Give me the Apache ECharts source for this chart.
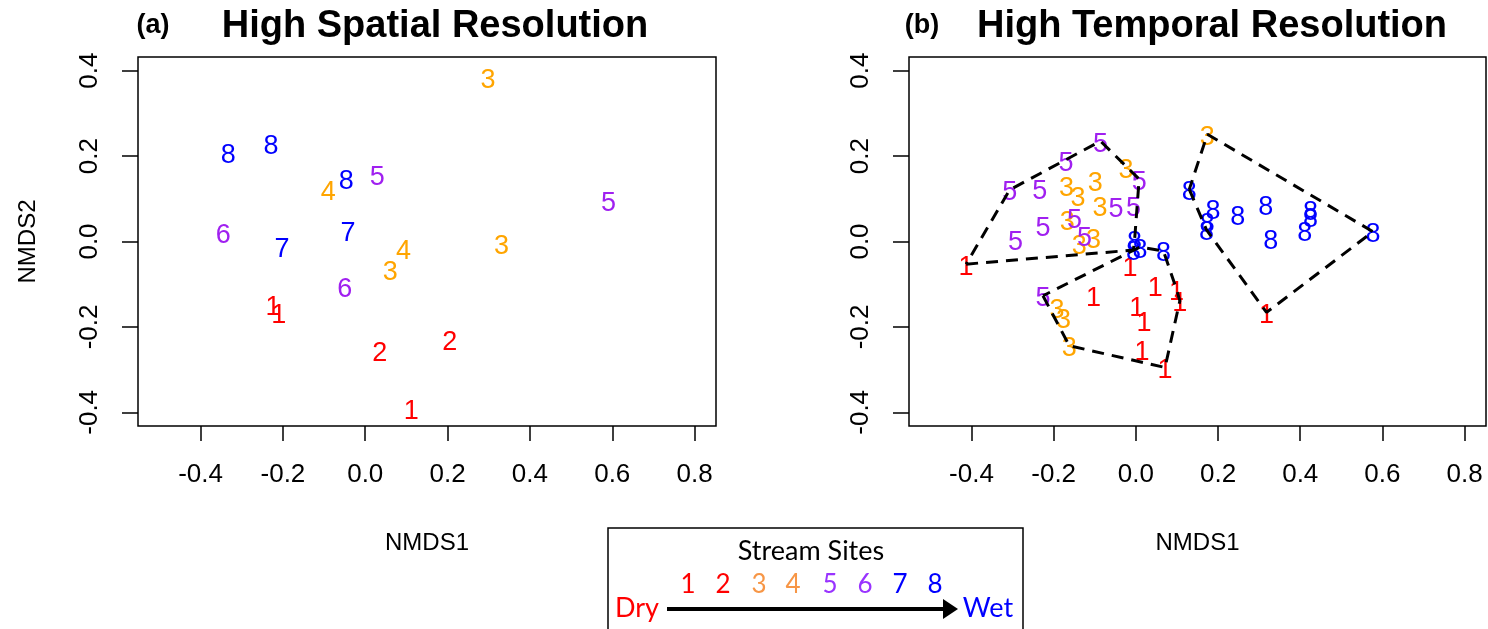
<!DOCTYPE html>
<html>
<head>
<meta charset="utf-8">
<title>NMDS ordination of stream sites</title>
<script src="https://cdn.jsdelivr.net/npm/echarts@6/dist/echarts.min.js"></script>
<style>
  html, body { margin: 0; padding: 0; background: #fff; }
  #chart { width: 1488px; height: 629px; }
</style>
</head>
<body>
<div id="chart"></div>
<script>
// Panel (a): high spatial resolution samples
const spatialSite = [3, 8, 8, 4, 8, 5, 5, 6, 7, 7, 4, 3, 3, 6, 1, 1, 2, 2, 1];
const spatialX = [0.298, -0.333, -0.229, -0.090, -0.046, 0.029, 0.591, -0.345, -0.202, -0.042,
                  0.093, 0.331, 0.061, -0.050, -0.224, -0.210, 0.035, 0.205, 0.112];
const spatialY = [0.384, 0.208, 0.229, 0.122, 0.148, 0.156, 0.097, 0.021, -0.012, 0.025,
                  -0.016, -0.005, -0.065, -0.106, -0.147, -0.166, -0.256, -0.229, -0.391];

// Panel (b): high temporal resolution samples, with the hull group of each sample
const temporalSite = [
  5, 5, 5, 5, 3, 3, 3, 3, 5, 3, 5, 5, 5, 3, 5, 5, 3, 5, 3, 1, 8, 8,
  8, 8, 1, 5, 3, 3, 3, 1, 1, 1, 1, 1, 1, 1, 1,
  3, 8, 8, 8, 8, 8, 8, 8, 8, 8, 8, 8, 1
];
const temporalX = [
  -0.086, -0.170, -0.307, -0.234, -0.169, -0.141, -0.099, -0.024, 0.008, -0.087, -0.048,
  -0.006, -0.226, -0.167, -0.149, -0.293, -0.138, -0.125, -0.103, -0.413, -0.003, -0.006,
  0.010, 0.067, -0.014, -0.226, -0.192, -0.176, -0.162, -0.103, 0.047, 0.099, 0.107,
  0.002, 0.020, 0.015, 0.071,
  0.174, 0.130, 0.188, 0.174, 0.172, 0.248, 0.316, 0.328, 0.425, 0.425, 0.411, 0.577, 0.318
];
const temporalY = [
  0.235, 0.189, 0.121, 0.124, 0.130, 0.108, 0.143, 0.173, 0.146, 0.085, 0.083,
  0.085, 0.038, 0.052, 0.056, 0.005, -0.005, 0.013, 0.009, -0.053, 0.004, -0.020,
  -0.013, -0.022, -0.057, -0.127, -0.155, -0.178, -0.244, -0.127, -0.104, -0.112, -0.139,
  -0.151, -0.186, -0.252, -0.295,
  0.251, 0.122, 0.077, 0.046, 0.027, 0.062, 0.087, 0.007, 0.075, 0.058, 0.026, 0.023, -0.166
];
const temporalGroup = [
  1, 1, 1, 1, 1, 1, 1, 1, 1, 1, 1, 1, 1, 1, 1, 1, 1, 1, 1, 1, 1, 1,
  2, 2, 2, 2, 2, 2, 2, 2, 2, 2, 2, 2, 2, 2, 2,
  3, 3, 3, 3, 3, 3, 3, 3, 3, 3, 3, 3, 3
];

// Axis ticks and site styling
const xTicks = [-0.4, -0.2, 0.0, 0.2, 0.4, 0.6, 0.8];
const yTicks = [-0.4, -0.2, 0.0, 0.2, 0.4];
const siteLabels = ['1', '2', '3', '4', '5', '6', '7', '8'];
const siteColors = ['#ff0000', '#ff0000', '#ffa500', '#ffa500', '#a020f0', '#a020f0', '#0000ff', '#0000ff'];
const legendColors = ['#ff0000', '#ff0000', '#f79646', '#f79646', '#9933ff', '#9933ff', '#0000ff', '#0000ff'];

const FONT = "'Liberation Sans', Arial, Helvetica, sans-serif";
const LEGEND_FONT = "Lato, 'Open Sans', sans-serif";

// Convex hull (monotone chain) of a set of [x, y] points, returned closed
function convexHull(pts) {
  const p = pts.slice().sort((a, b) => a[0] - b[0] || a[1] - b[1]);
  const cross = (o, a, b) => (a[0] - o[0]) * (b[1] - o[1]) - (a[1] - o[1]) * (b[0] - o[0]);
  const lower = [];
  for (const q of p) {
    while (lower.length >= 2 && cross(lower[lower.length - 2], lower[lower.length - 1], q) <= 0) lower.pop();
    lower.push(q);
  }
  const upper = [];
  for (let i = p.length - 1; i >= 0; i--) {
    const q = p[i];
    while (upper.length >= 2 && cross(upper[upper.length - 2], upper[upper.length - 1], q) <= 0) upper.pop();
    upper.push(q);
  }
  upper.pop(); lower.pop();
  const hull = lower.concat(upper);
  hull.push(hull[0]);
  return hull;
}

// One text-marker scatter series per site; the digit is centred on its point
function siteSeries(sites, xs, ys, axisIndex) {
  const out = [];
  for (let s = 1; s <= 8; s++) {
    const data = [];
    for (let i = 0; i < sites.length; i++) {
      if (sites[i] === s) data.push([xs[i], ys[i], siteLabels[s - 1]]);
    }
    if (!data.length) continue;
    out.push({
      type: 'scatter',
      name: 'Site ' + s,
      xAxisIndex: axisIndex,
      yAxisIndex: axisIndex,
      data: data,
      symbol: 'circle',
      symbolSize: 1,
      z: 2,
      itemStyle: { color: 'rgba(0,0,0,0)', opacity: 1 },
      label: {
        show: true,
        position: 'inside',
        offset: [0, 3],
        formatter: p => p.value[2],
        color: siteColors[s - 1],
        opacity: 1,
        textBorderWidth: 0,
        fontSize: 27,
        fontFamily: FONT
      },
      emphasis: { disabled: true },
      silent: true
    });
  }
  return out;
}

// Dashed hull outline for each group of panel (b)
function hullSeries() {
  const groups = [...new Set(temporalGroup)];
  return groups.map(g => {
    const pts = [];
    for (let i = 0; i < temporalGroup.length; i++) {
      if (temporalGroup[i] === g) pts.push([temporalX[i], temporalY[i]]);
    }
    return {
      type: 'line',
      name: 'Hull ' + g,
      xAxisIndex: 1,
      yAxisIndex: 1,
      data: convexHull(pts),
      showSymbol: false,
      symbol: 'none',
      smooth: false,
      clip: false,
      z: 5,
      lineStyle: { color: '#000', width: 3, type: [12, 8] },
      silent: true
    };
  });
}

function xAxis(gridIndex) {
  return {
    type: 'value',
    gridIndex: gridIndex,
    position: 'bottom',
    min: -0.552,
    max: 0.852,
    name: 'NMDS1',
    nameLocation: 'middle',
    nameGap: 105,
    nameTextStyle: { fontSize: 24, fontFamily: FONT, color: '#000' },
    axisLine: { show: false, onZero: false },
    splitLine: { show: false },
    axisTick: { show: true, inside: false, length: 15, customValues: xTicks,
                lineStyle: { color: '#000', width: 1.5 } },
    axisLabel: { show: true, customValues: xTicks, margin: 36, fontSize: 26, fontFamily: FONT,
                 color: '#000', formatter: v => v.toFixed(1) }
  };
}

function yAxis(gridIndex, withName) {
  return {
    type: 'value',
    gridIndex: gridIndex,
    position: 'left',
    min: -0.432,
    max: 0.432,
    name: withName ? 'NMDS2' : '',
    nameLocation: 'middle',
    nameGap: 98,
    nameRotate: 90,
    nameTextStyle: { fontSize: 24, fontFamily: FONT, color: '#000' },
    axisLine: { show: false, onZero: false },
    splitLine: { show: false },
    axisTick: { show: true, inside: false, length: 16, customValues: yTicks,
                lineStyle: { color: '#000', width: 1.5 } },
    axisLabel: { show: true, customValues: yTicks, rotate: 90, margin: 35, fontSize: 26,
                 fontFamily: FONT, color: '#000', formatter: v => v.toFixed(1) }
  };
}

// Legend: site numbers on a dry-to-wet gradient
const legendX = [688, 723, 759, 793, 830, 865, 900, 935];
const legendGraphics = [
  { type: 'rect', shape: { x: 608, y: 528, width: 415, height: 130 },
    style: { fill: '#fff', stroke: '#000', lineWidth: 1.5 }, z: 10 },
  { type: 'text', x: 811, y: 551, z: 11,
    style: { text: 'Stream Sites', font: '27px ' + LEGEND_FONT, fill: '#000',
             textAlign: 'center', textVerticalAlign: 'middle' } },
  { type: 'text', x: 637, y: 608, z: 11,
    style: { text: 'Dry', font: '27px ' + LEGEND_FONT, fill: '#ff0000',
             textAlign: 'center', textVerticalAlign: 'middle' } },
  { type: 'text', x: 988, y: 608, z: 11,
    style: { text: 'Wet', font: '27px ' + LEGEND_FONT, fill: '#0000ff',
             textAlign: 'center', textVerticalAlign: 'middle' } },
  { type: 'line', shape: { x1: 667, y1: 609, x2: 946, y2: 609 }, z: 11,
    style: { stroke: '#000', lineWidth: 4 } },
  { type: 'polygon', shape: { points: [[943, 599], [958, 609], [943, 619]] }, z: 11,
    style: { fill: '#000' } }
].concat(siteLabels.map((t, i) => ({
  type: 'text', x: legendX[i], y: 585, z: 11,
  style: { text: t, font: '26px ' + LEGEND_FONT, fill: legendColors[i],
           textAlign: 'center', textVerticalAlign: 'middle' }
})));

const titleGraphics = [
  { type: 'text', x: 153, y: 26,
    style: { text: '(a)', font: 'bold 27px ' + FONT, fill: '#000', textAlign: 'center', textVerticalAlign: 'middle' } },
  { type: 'text', x: 435, y: 27,
    style: { text: 'High Spatial Resolution', font: 'bold 38px ' + FONT, fill: '#000', textAlign: 'center', textVerticalAlign: 'middle' } },
  { type: 'text', x: 922, y: 26,
    style: { text: '(b)', font: 'bold 27px ' + FONT, fill: '#000', textAlign: 'center', textVerticalAlign: 'middle' } },
  { type: 'text', x: 1212, y: 27,
    style: { text: 'High Temporal Resolution', font: 'bold 38px ' + FONT, fill: '#000', textAlign: 'center', textVerticalAlign: 'middle' } }
];

const chart = echarts.init(document.getElementById('chart'), null, { renderer: 'canvas' });
chart.setOption({
  animation: false,
  backgroundColor: '#fff',
  grid: [
    { left: 138, top: 57, width: 578, height: 369, show: true, borderColor: '#000', borderWidth: 1.5,
      backgroundColor: 'rgba(0,0,0,0)', containLabel: false },
    { left: 909, top: 57, width: 577, height: 369, show: true, borderColor: '#000', borderWidth: 1.5,
      backgroundColor: 'rgba(0,0,0,0)', containLabel: false }
  ],
  xAxis: [xAxis(0), xAxis(1)],
  yAxis: [yAxis(0, true), yAxis(1, false)],
  series: siteSeries(spatialSite, spatialX, spatialY, 0)
    .concat(siteSeries(temporalSite, temporalX, temporalY, 1))
    .concat(hullSeries()),
  graphic: titleGraphics.concat(legendGraphics)
});
</script>
</body>
</html>
